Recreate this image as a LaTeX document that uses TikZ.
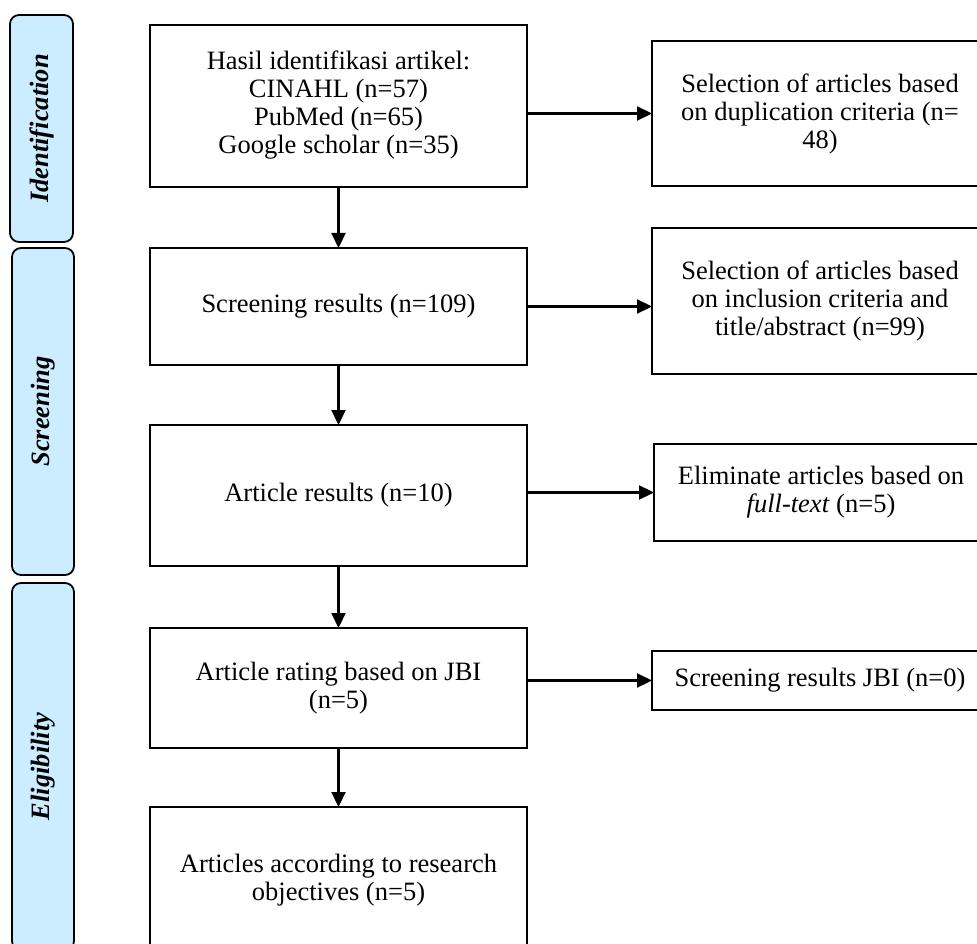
\documentclass[tikz,border=0pt]{standalone}
\usepackage{fontspec}
\setmainfont{Liberation Serif}
\usetikzlibrary{arrows.meta}
\definecolor{lblue}{HTML}{CCECFF}
\begin{document}
\begin{tikzpicture}[x=1pt,y=-1pt,
  every node/.style={font=\fontsize{26.5}{28}\selectfont, align=center, inner sep=0pt, outer sep=0pt},
  mainbox/.style={draw, line width=2.4pt, fill=white},
  labbox/.style={draw, line width=1.8pt, fill=lblue, rounded corners=9pt, rotate=90,
     font=\fontsize{26.5}{28}\selectfont\bfseries\itshape},
  arr/.style={line width=2.2pt, -{Triangle[length=15pt,width=14pt]}}]
\useasboundingbox (0,0) rectangle (977,944);
\clip (0,0) rectangle (977,944);
% stage labels
\node[labbox, minimum width=227pt, minimum height=63pt] (l1) at (41.5,128.5) {Identification};
\node[labbox, minimum width=327pt, minimum height=62pt] (l2) at (43,411.5) {Screening};
\node[labbox, minimum width=367pt, minimum height=62pt] (l3) at (43,766.5) {Eligibility};
% main column
\node[mainbox, minimum width=377pt, minimum height=162pt] (b1) at (338.5,106)
  {\raisebox{-5pt}{\begin{tabular}{@{}c@{}}Hasil identifikasi artikel:\\CINAHL (n=57)\\PubMed (n=65)\\Google scholar (n=35)\end{tabular}}};
\node[mainbox, minimum width=377pt, minimum height=117pt] (b2) at (338.5,306.5)
  {Screening results (n=109)};
\node[mainbox, minimum width=377pt, minimum height=141pt] (b3) at (338.5,495.5)
  {\raisebox{-4pt}{Article results (n=10)}};
\node[mainbox, minimum width=377pt, minimum height=120pt] (b4) at (338.5,688)
  {Article rating based on JBI\\(n=5)};
\node[mainbox, minimum width=377pt, minimum height=146pt] (b5) at (338.5,880)
  {Articles according to research\\objectives (n=5)};
% right column
\node[mainbox, minimum width=336pt, minimum height=145pt] (r1) at (820,113.5)
  {Selection of articles based\\on duplication criteria (n=\\48)};
\node[mainbox, minimum width=336pt, minimum height=146pt] (r2) at (820,301)
  {Selection of articles based\\on inclusion criteria and\\title/abstract (n=99)};
\node[mainbox, minimum width=334pt, minimum height=97pt] (r3) at (821,492.5)
  {Eliminate articles based on\\\textit{full-text} (n=5)};
\node[mainbox, minimum width=336pt, minimum height=59pt] (r4) at (820,680.5)
  {Screening results JBI (n=0)};
% connectors
\draw[arr] (b1.south) -- (b2.north);
\draw[arr] (b2.south) -- (b3.north);
\draw[arr] (b3.south) -- (b4.north);
\draw[arr] (b4.south) -- (b5.north);
\draw[arr] (b1.east |- r1.west) -- (r1.west);
\draw[arr] (b2.east) -- (b2.east -| r2.west);
\draw[arr] (b3.east |- r3.west) -- (r3.west);
\draw[arr] (b4.east |- r4.west) -- (r4.west);
\end{tikzpicture}
\end{document}
